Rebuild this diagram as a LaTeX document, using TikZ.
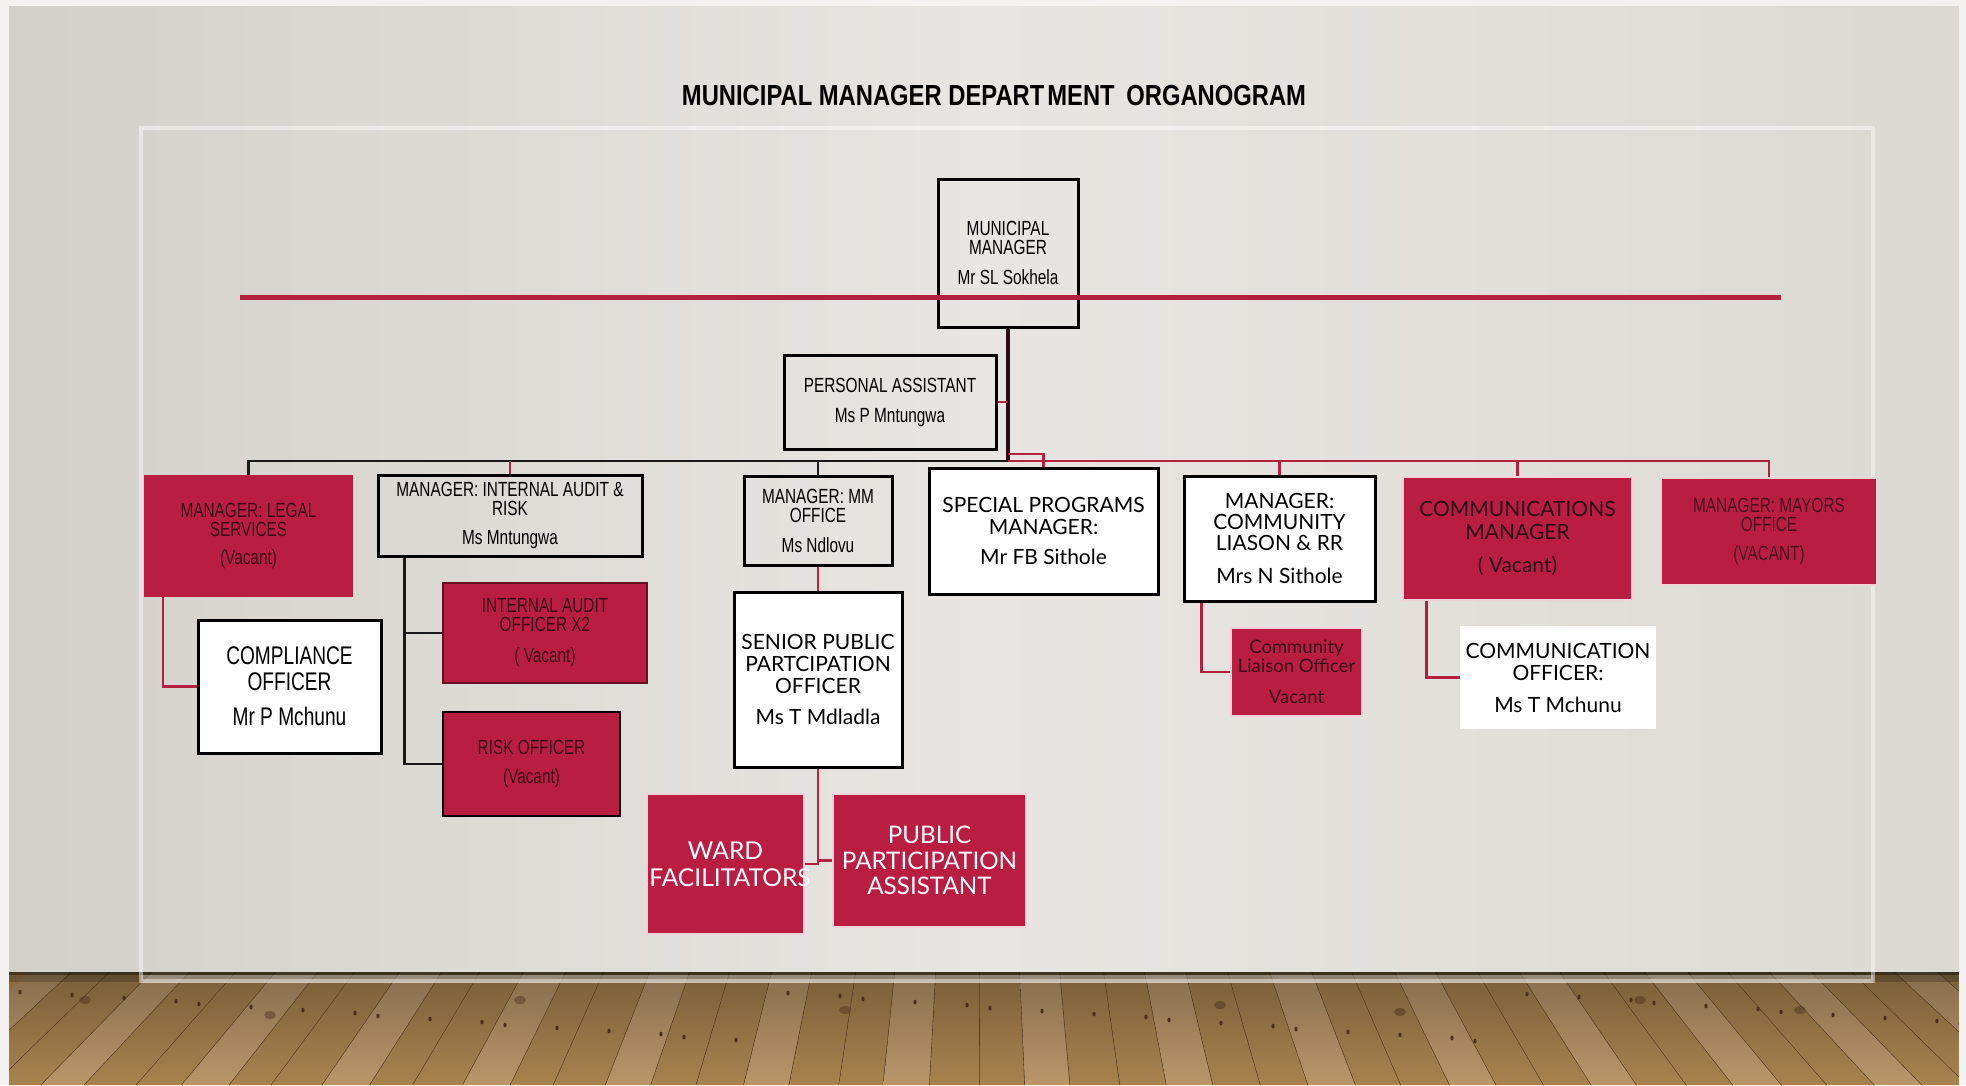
\documentclass[tikz,border=0pt]{standalone}
\usepackage{fontspec}
\setmainfont{Liberation Sans}
\newfontfamily\narrowsans[FakeStretch=0.82]{Liberation Sans}
\newfontfamily\tallsans[FakeStretch=0.75]{Liberation Sans}
\newfontfamily\humsans{Lato}
\usetikzlibrary{calc}

\definecolor{wallleft}{HTML}{D3D0CB}
\definecolor{wallmid}{HTML}{E8E6E2}
\definecolor{wallright}{HTML}{DCD9D4}
\definecolor{edgewhite}{HTML}{F3F2F0}
\definecolor{orgred}{HTML}{B91D42}
\definecolor{linered}{HTML}{B4203F}
\definecolor{redtext}{HTML}{3A0B16}
\definecolor{mayortext}{HTML}{4A1020}
\definecolor{trunk}{HTML}{2A0C14}
\definecolor{wood0}{HTML}{A8834F}
\definecolor{wood1}{HTML}{8E6A40}
\definecolor{wood2}{HTML}{BA976A}
\definecolor{wood3}{HTML}{83613A}
\definecolor{wood4}{HTML}{A07B4A}
\definecolor{wood5}{HTML}{B28E5E}
\definecolor{seam}{HTML}{4E3720}
\definecolor{knot}{HTML}{4A301A}

\pgfdeclarelayer{back}
\pgfdeclarelayer{links}
\pgfsetlayers{back,links,main}

\tikzset{
  sz/.style 2 args={minimum width=#1, minimum height=#2},
  card/.style={inner sep=0pt, align=center, text=black},
  outlined/.style={card, draw=black, line width=3pt},
  whitecard/.style={outlined, fill=white},
  redcard/.style={card, fill=orgred, text=redtext},
  rimmed/.style={redcard, draw=white!80!orgred, line width=1.5pt},
  narrowtext/.style={font=\tallsans\fontsize{20.5}{19}\selectfont},
  humantext/.style={font=\humsans\fontsize{21}{22}\selectfont},
  blackconn/.style={draw=black!90, line width=2.5pt},
  redconn/.style={draw=linered, line width=2.5pt},
}

\begin{document}
\begin{tikzpicture}[x=1pt,y=-1pt]
\useasboundingbox (0,0) rectangle (1966,1085);

% ---------- wall, floor and frame ----------
\begin{pgfonlayer}{back}
\shade[left color=wallleft, right color=wallright, middle color=wallmid] (0,0) rectangle (1966,972);
\begin{scope}
  \clip (9,972) rectangle (1959,1085);
  \fill[wood1] (9,972) rectangle (1959,1085);
  \foreach \xa [count=\n, remember=\xa as \xp (initially 30)] in
    {72,110,152,190,236,276,318,355,400,442,480,524,566,604,650,690,730,772,812,856,895,936,980,1020,1060,1104,1145,1186,1228,1270,1312,1352,1395,1436,1478,1520,1560,1604,1645,1688,1728,1770,1812,1852,1895,1938,1980}
  {
    \pgfmathsetmacro\xpb{983+(\xp-983)*1.1331}
    \pgfmathsetmacro\xab{983+(\xa-983)*1.1331}
    \pgfmathtruncatemacro\k{mod(\n*7+\n*\n,6)}
    \shade[top color=wood\k!72!black, bottom color=wood\k]
      (\xp,972) -- (\xa,972) -- (\xab,1085) -- (\xpb,1085) -- cycle;
    \draw[seam, line width=1.2pt] (\xa,972) -- (\xab,1085);
  }
  \foreach \j in {0,...,44} {
    \pgfmathsetmacro\kx{20+\j*44+mod(\j*37,29)}
    \pgfmathsetmacro\ky{992+mod(\j*53,50)}
    \fill[knot] (\kx,\ky) ellipse [x radius=1.6, y radius=2.4];
  }
  \foreach \kx/\ky in {85/1000,270/1015,520/1000,845/1010,1220/1005,1400/1012,1640/1000,1800/1010} {
    \fill[knot, opacity=0.45] (\kx,\ky) ellipse [x radius=6, y radius=4];
  }
  \fill[black, opacity=0.5] (9,972) rectangle (1959,975);
  \fill[black, opacity=0.2] (9,975) rectangle (1959,982);
\end{scope}
\fill[white, opacity=0.3] (141,975) rectangle (1873,983);
\draw[white, opacity=0.45, line width=4pt] (141,128) rectangle (1873,981);
\fill[edgewhite] (0,0) rectangle (9,1085);
\fill[edgewhite] (1959,0) rectangle (1966,1085);
\fill[edgewhite] (0,0) rectangle (1966,6);
\end{pgfonlayer}

% ---------- title ----------
\node[font=\narrowsans\bfseries\fontsize{29}{29}\selectfont, anchor=base, inner sep=0pt] (title)
  at (994,105) {MUNICIPAL MANAGER DEPART\kern3pt MENT\kern5pt{} ORGANOGRAM};

% ---------- boxes ----------
\node[outlined, narrowtext, sz={140}{148}] (mm) at (1008,253)
  {MUNICIPAL\\MANAGER\\[11pt]Mr SL Sokhela};
\node[outlined, narrowtext, sz={212}{94}] (pa) at (890,402)
  {PERSONAL ASSISTANT\\[11pt]Ms P Mntungwa};

\node[redcard, narrowtext, sz={209}{122}] (legal) at (248.5,536)
  {MANAGER: LEGAL\\SERVICES\\[9pt](Vacant)};
\node[outlined, narrowtext, sz={264}{81}] (ia) at (510,515.5)
  {MANAGER: INTERNAL AUDIT \&\\RISK\\[10pt]Ms Mntungwa};
\node[outlined, narrowtext, sz={148}{89}] (mmo) at (818,520.5)
  {MANAGER: MM\\OFFICE\\[11pt]Ms Ndlovu};
\node[whitecard, humantext, sz={229}{126}] (spec) at (1043.5,531)
  {SPECIAL PROGRAMS\\MANAGER:\\[8pt]Mr FB Sithole};
\node[whitecard, font=\humsans\fontsize{21}{21}\selectfont, sz={191}{125}] (cl) at (1279.5,538.5)
  {MANAGER:\\COMMUNITY\\LIASON \& RR\\[12pt]Mrs N Sithole};
\node[rimmed, font=\humsans\fontsize{21}{23}\selectfont, text=trunk, sz={229}{123}] (cmgr) at (1517.5,538.5)
  {COMMUNICATIONS\\MANAGER\\[10pt]( Vacant)};
\node[rimmed, narrowtext, text=mayortext, sz={216}{107}] (mayor) at (1769,531.5)
  {MANAGER: MAYORS\\OFFICE\\[10pt](VACANT)};

\node[whitecard, font=\tallsans\fontsize{25.5}{26}\selectfont, sz={183}{133}] (comp) at (289.5,686.5)
  {COMPLIANCE\\OFFICER\\[9pt]Mr P Mchunu};
\node[redcard, draw=orgred!55!black, line width=1.5pt, narrowtext, sz={204}{100}] (iao) at (545,633)
  {INTERNAL AUDIT\\OFFICER X2\\[12pt]( Vacant)};
\node[redcard, draw=black, line width=2.5pt, narrowtext, sz={177}{104}] (risk) at (531.5,764)
  {RISK OFFICER\\[10pt](Vacant)};
\node[whitecard, humantext, sz={168}{175}] (sppo) at (818,679.5)
  {SENIOR PUBLIC\\PARTCIPATION\\OFFICER\\[9pt]Ms T Mdladla};
\node[rimmed, font=\humsans\fontsize{18.5}{19}\selectfont, sz={131}{88}] (clo) at (1296.5,672)
  {Community\\Liaison Officer\\[12pt]Vacant};
\node[card, fill=white, humantext, sz={196}{103}] (cof) at (1558,677.5)
  {COMMUNICATION\\OFFICER:\\[10pt]Ms T Mchunu};
\node[rimmed, text=white, font=\humsans\fontsize{24.6}{27}\selectfont, sz={157}{140}] (ward) at (725.5,864)
  {WARD\\\makebox[0pt]{\hspace{9pt}FACILITATORS}};
\node[rimmed, text=white, font=\humsans\fontsize{24.2}{25.5}\selectfont, sz={193}{133}] (ppa) at (929.5,860.5)
  {PUBLIC\\PARTICIPATION\\ASSISTANT};

% ---------- reporting lines ----------
\coordinate (hub) at (1008,461);
\coordinate (ruleL) at (240,297);
\coordinate (ruleR) at (1781,297);

\begin{pgfonlayer}{links}
\draw[draw=trunk, line width=3.5pt] (mm.south) -- (hub);
\draw[redconn, line width=2pt] (pa.east) -- (pa.east -| hub);
\draw[blackconn] (hub) -| (legal.north);
\draw[blackconn] (mmo.north |- hub) -- (mmo.north);
\draw[redconn] (ia.north |- hub) -- (ia.north);
\draw[redconn] (hub) -| (mayor.north);
\draw[redconn] ([yshift=7pt]hub) -| (spec.north);
\draw[redconn] (cl.north |- hub) -- (cl.north);
\draw[redconn] (cmgr.north |- hub) -- (cmgr.north);
\draw[redconn] ([xshift=19pt]legal.south west) |- (comp.west);
\draw[blackconn] ([xshift=28pt]ia.south west) |- (iao.west);
\draw[blackconn] ([xshift=28pt]ia.south west) |- (risk.west);
\draw[redconn] (mmo.south) -- (sppo.north);
\draw[redconn] (sppo.south) |- (ward.east);
\draw[redconn] (sppo.south) |- (ppa.west);
\draw[redconn] ([xshift=19pt]cl.south west) |- (clo.west);
\draw[redconn] ([xshift=24pt]cmgr.south west) |- (cof.west);
\end{pgfonlayer}

% red rule across the top of the chart
\draw[linered, line width=5pt] (ruleL) -- (ruleR);

\end{tikzpicture}
\end{document}
